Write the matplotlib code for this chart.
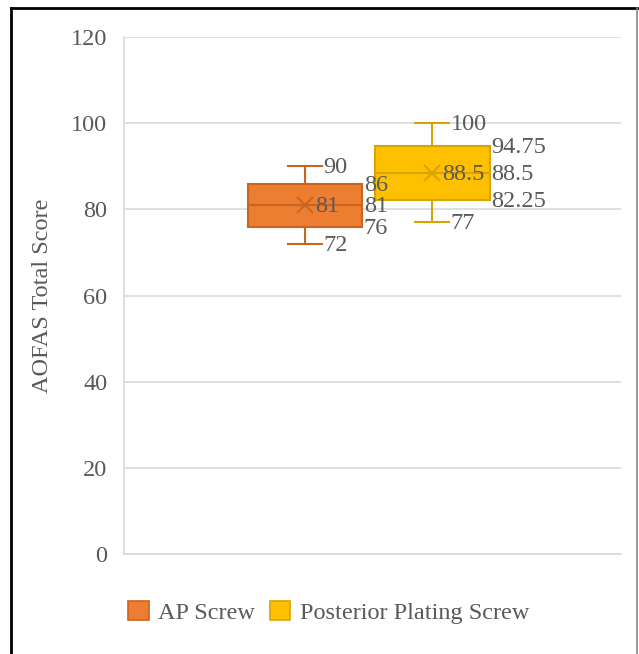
import matplotlib.pyplot as plt
from matplotlib.lines import Line2D
from matplotlib.patches import Patch

groups = ["AP Screw", "Posterior Plating Screw"]
mins = [72, 77]
q1s = [76, 82.25]
medians = [81, 88.5]
q3s = [86, 94.75]
maxs = [90, 100]
means = [81, 88.5]
y_ticks = [0, 20, 40, 60, 80, 100, 120]

fills = ["#ED7D31", "#FFC000"]
edges = ["#C9651E", "#D9A300"]
text_col = "#595959"
fs = 17.5

plt.rcParams["font.family"] = ["Liberation Serif", "DejaVu Serif"]

fig = plt.figure(figsize=(6.39, 6.54), dpi=100)
ax = fig.add_axes([0.194, 0.153, 0.778, 0.790])

positions = [0.364, 0.620]
width = 0.231


def fmt(v):
    return "%g" % v


for i in range(len(groups)):
    stats = [{
        "whislo": mins[i], "q1": q1s[i], "med": medians[i],
        "q3": q3s[i], "whishi": maxs[i], "mean": means[i], "fliers": [],
    }]
    ax.bxp(stats, positions=[positions[i]], widths=width, patch_artist=True,
           showmeans=True, capwidths=0.068,
           boxprops=dict(facecolor=fills[i], edgecolor=edges[i], linewidth=1.5),
           medianprops=dict(color=edges[i], linewidth=1.5),
           whiskerprops=dict(color=edges[i], linewidth=1.5),
           capprops=dict(color=edges[i], linewidth=1.5),
           meanprops=dict(marker="x", markersize=11, markeredgewidth=1.5,
                          markeredgecolor=edges[i]),
           zorder=3)

    box_right = positions[i] + width / 2
    cap_right = positions[i] + 0.034
    for v in (q3s[i], medians[i], q1s[i]):
        ax.annotate(fmt(v), xy=(box_right, v), xytext=(1, -1),
                    textcoords="offset points", va="center", ha="left",
                    fontsize=fs, color=text_col, zorder=4)
    for v in (mins[i], maxs[i]):
        ax.annotate(fmt(v), xy=(cap_right, v), xytext=(1, -1),
                    textcoords="offset points", va="center", ha="left",
                    fontsize=fs, color=text_col, zorder=4)
    ax.annotate(fmt(means[i]), xy=(positions[i], means[i]), xytext=(7.5, -1),
                textcoords="offset points", va="center", ha="left",
                fontsize=fs, color=text_col, zorder=4)

ax.set_xlim(0, 1)
ax.set_ylim(0, 120)
ax.set_yticks(y_ticks)
ax.set_xticks([])
ax.yaxis.grid(True, color="#D9D9D9", linewidth=1.2)
ax.set_axisbelow(True)
ax.tick_params(axis="y", length=0, pad=12, labelsize=fs, labelcolor=text_col)
for s in ("top", "right"):
    ax.spines[s].set_visible(False)
for s in ("left", "bottom"):
    ax.spines[s].set_color("#D9D9D9")
    ax.spines[s].set_linewidth(1.2)

fig.text(0.066, 0.548, "AOFAS Total Score", rotation=90, ha="center",
         va="center", fontsize=fs, color=text_col)

handles = [Patch(facecolor=fills[i], edgecolor=edges[i], linewidth=1.2)
           for i in range(len(groups))]
fig.legend(handles, groups, loc="center left", bbox_to_anchor=(0.166, 0.064),
           frameon=False, ncol=2, fontsize=fs, labelcolor=text_col,
           handlelength=0.85, handleheight=0.85, handletextpad=0.4,
           columnspacing=0.6)

# frame around the figure
fig.add_artist(Line2D([0.017, 0.017], [0, 0.988], color="black", linewidth=2))
fig.add_artist(Line2D([0.017, 0.997], [0.988, 0.988], color="black", linewidth=2))
fig.add_artist(Line2D([0.997, 0.997], [0, 0.988], color="#888888", linewidth=1.2))

fig.savefig("out.png", dpi=100)
